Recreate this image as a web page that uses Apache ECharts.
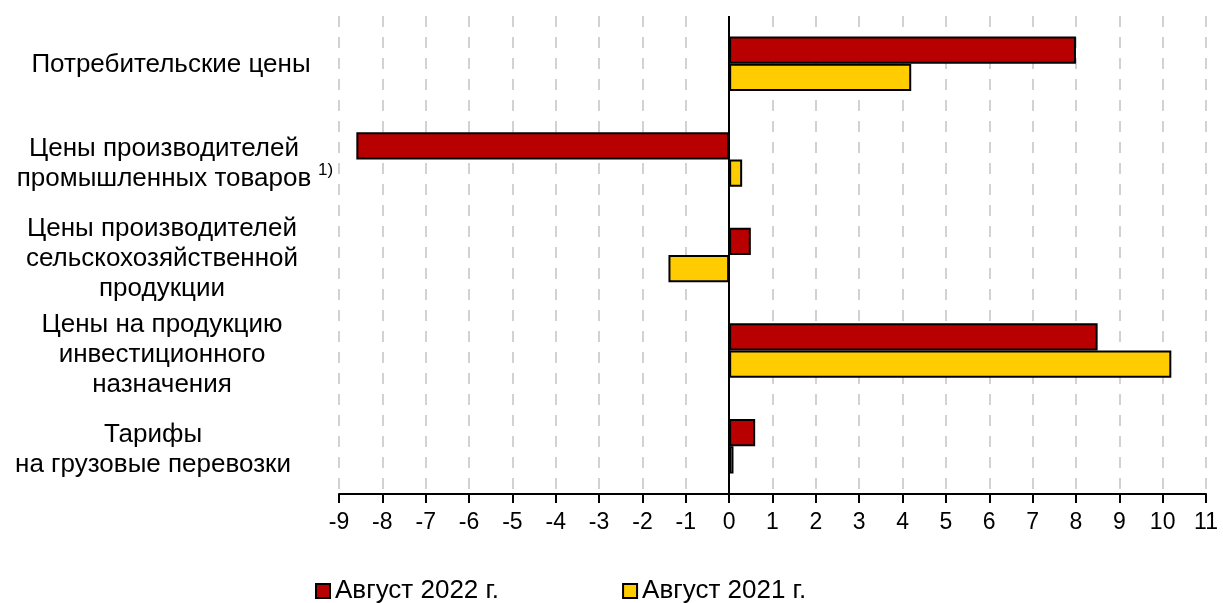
<!DOCTYPE html>
<html><head><meta charset="utf-8">
<script src="https://cdn.jsdelivr.net/npm/echarts@6/dist/echarts.min.js"></script>
<style>html,body{margin:0;padding:0;background:#fff}#c{width:1223px;height:603px}</style>
</head><body><div id="c"></div>
<script>
const categories = [
  'Потребительские цены',
  'Цены производителей\nпромышленных товаров',
  'Цены производителей\nсельскохозяйственной\nпродукции',
  'Цены на продукцию\nинвестиционного\nназначения',
  'Тарифы\nна грузовые перевозки'
];
const seriesNames = ['Август 2022 г.', 'Август 2021 г.'];
const aug2022 = [8.0, -8.6, 0.5, 8.5, 0.6];
const aug2021 = [4.2, 0.3, -1.4, 10.2, 0.1];
const xTicks = { min: -9, max: 11, step: 1 };

// label nudges (layout only), px
const labelShiftX = [9, 2, 0, 0, -9];
const labelLiftY = [3, 0, 0, 0, 0];

const FONT = '"Liberation Sans", Arial, sans-serif';
const rich = {};
labelShiftX.forEach((dx, i) => {
  rich['s' + i] = {
    fontSize: 26, color: '#000', lineHeight: 30, fontFamily: FONT,
    padding: [0, dx < 0 ? -2 * dx : 0, 2 * labelLiftY[i], dx > 0 ? 2 * dx : 0]
  };
});
const chart = echarts.init(document.getElementById('c'));
chart.setOption({
  animation: false,
  textStyle: { fontFamily: FONT },
  grid: { left: 339, right: 17, top: 16, bottom: 109 },
  legend: {
    top: 573, left: 310,
    itemWidth: 14, itemHeight: 14, itemGap: 123,
    icon: 'rect',
    textStyle: { fontSize: 26, color: '#000', fontFamily: FONT },
    data: seriesNames
  },
  xAxis: {
    type: 'value', min: xTicks.min, max: xTicks.max, interval: xTicks.step,
    axisLine: { show: true, onZero: false, lineStyle: { color: '#000', width: 2 } },
    axisTick: { show: true, length: 9, lineStyle: { color: '#000', width: 2 } },
    axisLabel: { fontSize: 23, color: '#000', margin: 17, fontFamily: FONT },
    splitLine: { show: true, lineStyle: { color: '#c4c4c4', width: 1.5, type: [11, 10] } }
  },
  yAxis: {
    type: 'category', data: categories, inverse: true,
    axisLine: { show: false, onZero: false },
    axisTick: { show: false },
    axisLabel: {
      fontSize: 26, color: '#000', align: 'center', margin: 177, lineHeight: 30,
      padding: [8, 0, 0, 0], fontFamily: FONT,
      formatter: (v, i) => v.split('\n').map(l => '{s' + i + '|' + l + '}').join('\n'),
      rich: rich
    }
  },
  series: [
    {
      name: seriesNames[0], type: 'bar', data: aug2022,
      barGap: '0%', barCategoryGap: '43%',
      itemStyle: { color: '#B80000', borderColor: '#000', borderWidth: 2 },
      markLine: {
        silent: true, symbol: 'none', label: { show: false },
        lineStyle: { color: '#000', width: 2, type: 'solid' },
        data: [{ xAxis: 0 }]
      }
    },
    {
      name: seriesNames[1], type: 'bar', data: aug2021,
      barGap: '0%', barCategoryGap: '43%',
      itemStyle: { color: '#FFCC00', borderColor: '#000', borderWidth: 2 }
    }
  ],
  graphic: [
    { type: 'text', left: 318, top: 162, style: { text: '1)', fontSize: 17, fill: '#000', fontFamily: FONT } }
  ]
});
</script></body></html>
